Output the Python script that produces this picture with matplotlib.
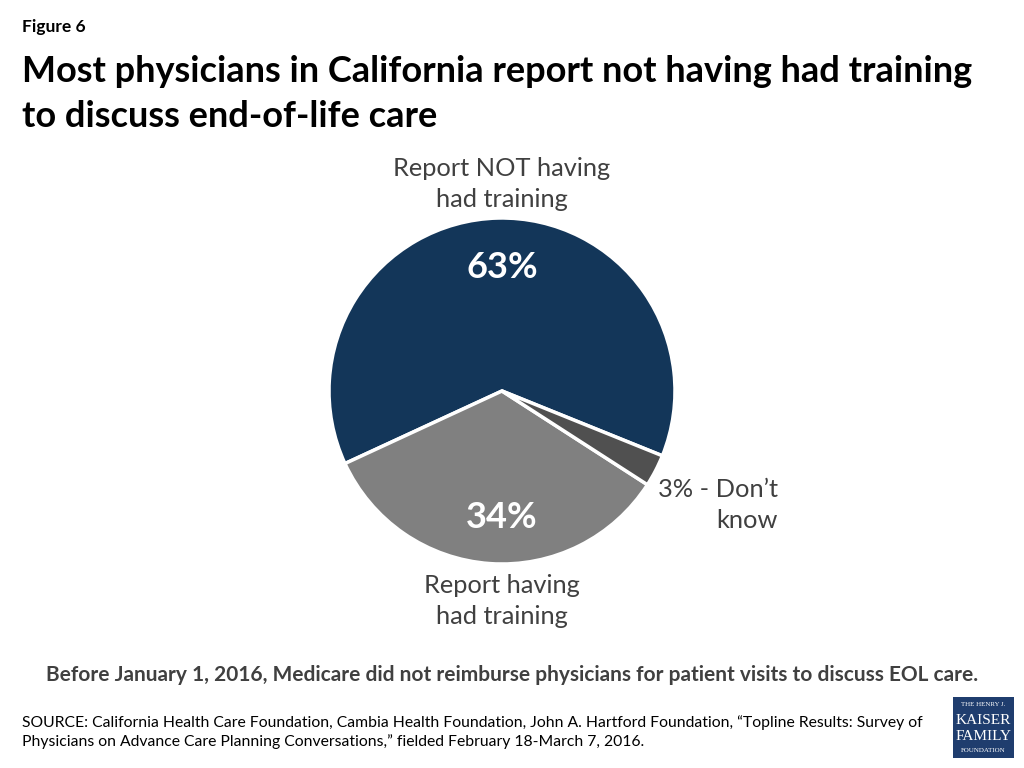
import matplotlib
matplotlib.use("Agg")
import matplotlib.pyplot as plt
from matplotlib.patches import Rectangle

plt.rcParams['font.family'] = ['Lato', 'DejaVu Sans']

# data
labels = ["Report NOT having had training", "Report having had training", "Don't know"]
values = [63, 34, 3]
colors = ["#133659", "#808080", "#505050"]

W, H = 1024, 768
fig = plt.figure(figsize=(W / 100, H / 100), dpi=100)

def px(x, y):
    return x / W, 1 - y / H

# pie centered at (502, 391), radius ~173 px
cx, cy, r = 502, 391, 173
ax = fig.add_axes([(cx - r) / W, 1 - (cy + r) / H, 2 * r / W, 2 * r / H])
ax.pie(values, colors=colors, startangle=-22, counterclock=True,
       wedgeprops=dict(edgecolor="white", linewidth=2.5))
ax.set_xlim(-1, 1)
ax.set_ylim(-1, 1)
ax.set_aspect("equal")
ax.axis("off")

txt = "#404040"
fig.text(*px(22, 27), "Figure 6", fontsize=12.5, fontweight="bold", color="black", va="center")
fig.text(*px(22, 94), "Most physicians in California report not having had training\nto discuss end-of-life care",
         fontsize=26, fontweight="bold", color="black", va="center", linespacing=1.42)

lab = dict(fontsize=18.3, color=txt, va="center", linespacing=1.38)
fig.text(*px(502, 184), "Report NOT having\nhad training", ha="center", **lab)
fig.text(*px(502, 601), "Report having\nhad training", ha="center", **lab)
fig.text(*px(778, 505), f"{values[2]}% - Don\u2019t\nknow", ha="right", **lab)

fig.text(*px(502, 268), f"{values[0]}%", fontsize=26, fontweight="bold", color="white",
         ha="center", va="center")
fig.text(*px(502, 517), f"{values[1]}%", fontsize=26, fontweight="bold", color="white",
         ha="center", va="center")

fig.text(*px(512, 675), "Before January 1, 2016, Medicare did not reimburse physicians for patient visits to discuss EOL care.",
         fontsize=15, fontweight="bold", color="#404040", ha="center", va="center")
fig.text(*px(22, 732), "SOURCE: California Health Care Foundation, Cambia Health Foundation, John A. Hartford Foundation, \u201cTopline Results: Survey of\n"
         "Physicians on Advance Care Planning Conversations,\u201d fielded February 18-March 7, 2016.",
         fontsize=11.3, color="black", va="center", linespacing=1.4)

# logo
lx0, ly0, lx1, ly1 = 953, 697, 1014, 758
fig.patches.append(Rectangle(px(lx0, ly1), (lx1 - lx0) / W, (ly1 - ly0) / H,
                             transform=fig.transFigure, facecolor="#1f3d6e", edgecolor="none"))
logo_font = ['Liberation Serif', 'DejaVu Serif']
fig.text(*px(983.5, 705), "THE HENRY J.", fontsize=5, color="white", ha="center", va="center", family=logo_font)
fig.text(*px(983.5, 720), "KAISER", fontsize=11, color="white", ha="center", va="center", family=logo_font)
fig.text(*px(983.5, 736), "FAMILY", fontsize=11, color="white", ha="center", va="center", family=logo_font)
fig.text(*px(983.5, 751), "FOUNDATION", fontsize=5, color="white", ha="center", va="center", family=logo_font)

fig.savefig("out.png", dpi=100)
